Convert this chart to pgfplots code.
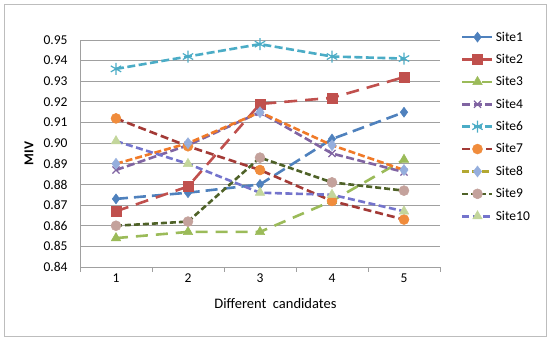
\documentclass[border=0pt]{standalone}
\usepackage{pgfplots}
\pgfplotsset{compat=1.18}
\usepackage{fontspec}
\setmainfont{Carlito}
\definecolor{cA}{HTML}{4F81BD}
\definecolor{cB}{HTML}{C0504D}
\definecolor{cC}{HTML}{9BBB59}
\definecolor{cD}{HTML}{8064A2}
\definecolor{cF}{HTML}{4BACC6}
\definecolor{cGl}{HTML}{A33A36}
\definecolor{cGm}{HTML}{F08C3C}
\definecolor{cHl}{HTML}{F07A28}
\definecolor{cHlg}{HTML}{B3A832}
\definecolor{cHm}{HTML}{95AEDD}
\definecolor{cIl}{HTML}{4F6228}
\definecolor{cIm}{HTML}{C4A29C}
\definecolor{cJl}{HTML}{7474CC}
\definecolor{cJm}{HTML}{C3D69B}
\definecolor{gridc}{HTML}{A0A0A0}
\begin{document}
\begin{tikzpicture}
\useasboundingbox (0pt,0pt) rectangle (550pt,340pt);
\draw[color=gridc!70, line width=0.8pt] (4pt,4pt) rectangle (546pt,336pt);
\begin{axis}[
  at={(80pt,73pt)}, anchor=south west,
  scale only axis, width=360pt, height=227pt,
  xmin=0.5, xmax=5.5, ymin=0.84, ymax=0.95,
  xtick={1,2,3,4,5},
  minor xtick={0.5,1.5,2.5,3.5,4.5,5.5},
  major tick length=0pt, minor tick length=5pt,
  tick align=outside,
  ytick={0.84,0.85,...,0.951},
  ymajorgrids, major grid style={gridc, line width=0.9pt},
  axis x line*=bottom, axis y line*=left,
  axis line style={gridc, line width=0.9pt},
  minor tick style={gridc, line width=0.9pt},
  yticklabel style={/pgf/number format/fixed, /pgf/number format/precision=2, /pgf/number format/fixed zerofill, font=\fontsize{13.5}{15}\selectfont, xshift=-9pt},
  xticklabel style={font=\fontsize{13.5}{15}\selectfont, yshift=-3pt},
  /pgf/number format/assume math mode=true,
  xlabel={Different\ \ candidates},
  xlabel style={at={(axis description cs:0.543,-0.159)}, anchor=center, font=\fontsize{14.5}{16}\selectfont},
  ylabel={\textbf{MIV}},
  ylabel style={at={(axis description cs:-0.142,0.5)}, anchor=center, font=\fontsize{13.5}{15}\selectfont},
  legend style={at={(1.05,1.055)}, anchor=north west, draw=none, fill=none,
    font=\fontsize{13.5}{15}\selectfont, row sep=7.6pt, legend cell align=left},
  legend image code/.code={\draw[#1] (0pt,0pt) -- (30pt,0pt); \draw[#1, solid] plot coordinates {(15pt,0pt)};},
  every axis plot/.append style={line width=2.6pt},
  clip=false,
]
\addplot[cA, dash pattern=on 12pt off 6pt, mark=diamond*, mark size=5pt, mark options={solid, fill=cA, line width=0.5pt}] coordinates {(1,0.873)(2,0.876)(3,0.880)(4,0.902)(5,0.915)};
\addplot[cB, dash pattern=on 13pt off 8pt, mark=square*, mark size=5pt, mark options={solid, fill=cB, line width=0.5pt}] coordinates {(1,0.867)(2,0.879)(3,0.919)(4,0.922)(5,0.932)};
\addplot[cC, dash pattern=on 12pt off 8pt, mark=triangle*, mark size=5.5pt, mark options={solid, fill=cC, line width=0.5pt}] coordinates {(1,0.854)(2,0.857)(3,0.857)(4,0.872)(5,0.892)};
\addplot[cD, dash pattern=on 8pt off 3.5pt, mark=x, mark size=5pt, mark options={solid, line width=1.2pt}] coordinates {(1,0.887)(2,0.899)(3,0.915)(4,0.895)(5,0.886)};
\addplot[cF, dash pattern=on 8pt off 3.5pt, mark=asterisk, mark size=6pt, mark options={solid, line width=1.2pt}] coordinates {(1,0.936)(2,0.942)(3,0.948)(4,0.942)(5,0.941)};
\addplot[cGl, dash pattern=on 8pt off 4pt, mark=*, mark size=5pt, mark options={solid, draw=cGm, fill=cGm, line width=0.5pt}] coordinates {(1,0.912)(2,0.8985)(3,0.887)(4,0.872)(5,0.863)};
\addplot[cHl, dash pattern=on 7pt off 3pt, mark=diamond*, mark size=5.5pt, mark options={solid, draw=cHm, fill=cHm, line width=0.5pt}, forget plot] coordinates {(1,0.890)(2,0.900)(3,0.915)(4,0.899)(5,0.887)};
\addplot[cIl, dash pattern=on 6pt off 3pt, mark=*, mark size=5pt, mark options={solid, draw=cIm, fill=cIm, line width=0.5pt}, forget plot] coordinates {(1,0.860)(2,0.862)(3,0.893)(4,0.881)(5,0.877)};
\addplot[cJl, dash pattern=on 7pt off 3.5pt, mark=triangle*, mark size=5.5pt, mark options={solid, draw=cJm, fill=cJm, line width=0.5pt}, forget plot] coordinates {(1,0.901)(2,0.890)(3,0.876)(4,0.875)(5,0.867)};
\addlegendentry{Site1}
\addlegendentry{Site2}
\addlegendentry{Site3}
\addlegendentry{Site4}
\addlegendentry{Site6}
\addlegendentry{Site7}
\addlegendimage{cHlg, line width=2.6pt, dash pattern=on 7pt off 3pt, mark=diamond*, mark size=5.5pt, mark options={solid, draw=cHm, fill=cHm, line width=0.5pt}}
\addlegendentry{Site8}
\addlegendimage{cIl, line width=2.6pt, dash pattern=on 6pt off 3pt, mark=*, mark size=5pt, mark options={solid, draw=cIm, fill=cIm, line width=0.5pt}}
\addlegendentry{Site9}
\addlegendimage{cJl, line width=2.6pt, dash pattern=on 7pt off 3.5pt, mark=triangle*, mark size=5.5pt, mark options={solid, draw=cJm, fill=cJm, line width=0.5pt}}
\addlegendentry{Site10}
\end{axis}
\end{tikzpicture}
\end{document}
